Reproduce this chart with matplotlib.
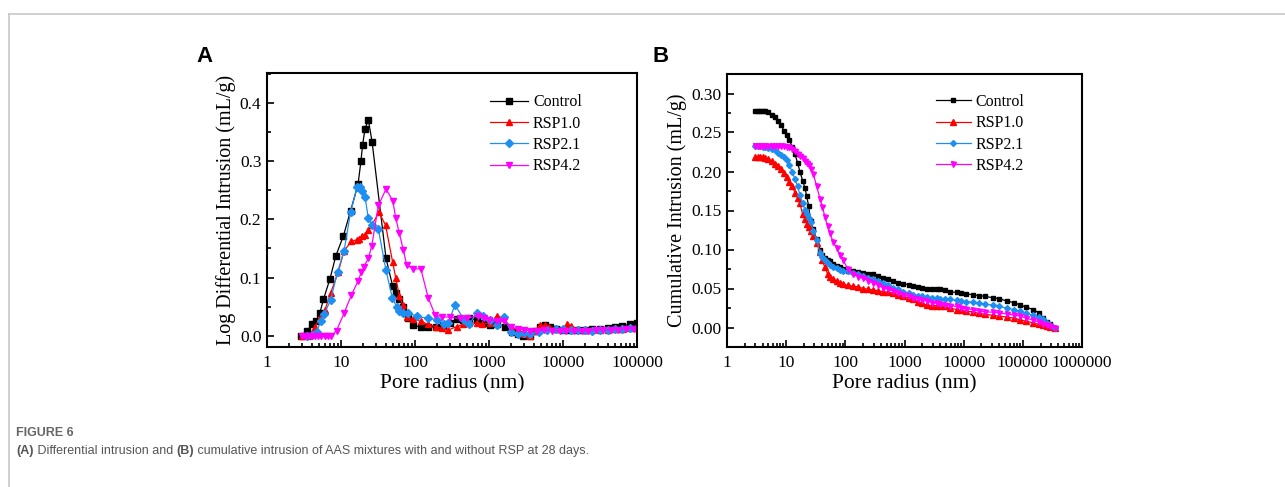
import matplotlib
matplotlib.use("Agg")
import matplotlib.pyplot as plt
from matplotlib.lines import Line2D
from matplotlib.ticker import FuncFormatter, LogLocator, MultipleLocator

# ---- panel A: log differential intrusion (mL/g) vs pore radius (nm) ----
A_CONTROL_R = [2.9, 3.5, 4.1, 4.6, 5.2, 5.8, 7.1, 8.5, 10.8, 13.5, 17, 18.6, 19.6, 21.1, 23.4,
               26.3, 40.6, 50, 55, 61, 69.5, 80, 95, 120, 151, 190, 240, 300, 365, 450, 540,
               680, 850, 1030, 1300, 1660, 2030, 2500, 2900, 3560, 4200, 4900, 5700, 6600,
               8000, 10000, 12500, 16000, 20000, 25000, 32000, 40000, 50000, 63000, 80000, 100000]
A_CONTROL_V = [0.0, 0.009, 0.021, 0.026, 0.04, 0.063, 0.098, 0.137, 0.172, 0.215, 0.26, 0.30,
               0.328, 0.355, 0.371, 0.333, 0.133, 0.085, 0.073, 0.063, 0.05, 0.03, 0.018, 0.015,
               0.015, 0.016, 0.018, 0.022, 0.029, 0.028, 0.031, 0.027, 0.022, 0.019, 0.02, 0.016,
               0.006, 0.003, 0.0, 0.0, 0.008, 0.016, 0.019, 0.016, 0.012, 0.01, 0.01, 0.011,
               0.011, 0.012, 0.012, 0.013, 0.015, 0.017, 0.02, 0.022]

A_RSP10_R = [3.0, 3.6, 4.0, 4.45, 5.2, 6.1, 7.25, 9.2, 11, 13.8, 16.3, 17.7, 19.2, 20.9, 23.4,
             26, 32.6, 40, 50, 55, 61.5, 68, 77.5, 94, 120, 150, 190, 230, 282, 365, 450, 540,
             680, 800, 1030, 1270, 1550, 2000, 2500, 3000, 3600, 4200, 4900, 5700, 6500, 8000,
             10000, 11200, 13000, 16000, 20000, 25000, 32000, 40000, 50000, 63000, 80000, 100000]
A_RSP10_V = [0.0, 0.0, 0.005, 0.016, 0.03, 0.045, 0.074, 0.11, 0.146, 0.162, 0.165, 0.167,
             0.171, 0.173, 0.182, 0.19, 0.212, 0.19, 0.126, 0.099, 0.069, 0.053, 0.033, 0.029,
             0.025, 0.02, 0.016, 0.013, 0.01, 0.016, 0.02, 0.023, 0.022, 0.02, 0.022, 0.034,
             0.031, 0.014, 0.01, 0.003, 0.0, 0.008, 0.018, 0.018, 0.015, 0.012, 0.012, 0.02,
             0.017, 0.012, 0.01, 0.01, 0.011, 0.011, 0.012, 0.012, 0.013, 0.013]

A_RSP21_R = [3.5, 4.1, 4.7, 5.3, 5.96, 7.25, 9.0, 11, 13.5, 16.6, 17.8, 19.4, 21.1, 23.4, 26.3,
             32, 40.5, 49.4, 56.6, 61, 69, 80, 105, 150, 200, 250, 280, 347, 460, 540, 680, 830,
             1030, 1300, 1600, 2000, 2500, 3000, 3600, 4700, 6000, 8000, 10000, 13000, 16000,
             20000, 25000, 32000, 40000, 50000, 63000, 80000, 100000]
A_RSP21_V = [0.0, 0.002, 0.007, 0.025, 0.038, 0.062, 0.11, 0.146, 0.213, 0.256, 0.256, 0.248,
             0.239, 0.202, 0.19, 0.183, 0.113, 0.065, 0.05, 0.042, 0.04, 0.04, 0.034, 0.03,
             0.028, 0.02, 0.022, 0.053, 0.028, 0.02, 0.039, 0.035, 0.028, 0.018, 0.032, 0.006,
             0.004, 0.005, 0.004, 0.007, 0.01, 0.012, 0.012, 0.011, 0.011, 0.01, 0.009, 0.01,
             0.011, 0.012, 0.012, 0.013, 0.013]

A_RSP42_R = [3.0, 3.3, 3.6, 4.0, 4.4, 4.9, 5.4, 6.0, 6.6, 7.4, 8.7, 11, 13.8, 17.1, 18.8, 20.4,
             23.4, 26, 32, 40.6, 50, 55, 61.4, 69.5, 77, 95, 120, 151, 187, 230, 300, 400, 500,
             700, 850, 1000, 1300, 1600, 2000, 2500, 3000, 3600, 4500, 5500, 7000, 9000, 11000,
             14000, 18000, 22000, 28000, 35000, 45000, 56000, 70000, 90000, 100000]
A_RSP42_V = [0.0, 0.0, 0.0, 0.0, 0.0, 0.0, 0.0, 0.0, 0.0, 0.0, 0.009, 0.039, 0.07, 0.095,
             0.109, 0.119, 0.133, 0.154, 0.224, 0.252, 0.232, 0.202, 0.176, 0.148, 0.122, 0.115,
             0.115, 0.065, 0.036, 0.033, 0.032, 0.03, 0.03, 0.035, 0.03, 0.028, 0.025, 0.025,
             0.015, 0.012, 0.01, 0.009, 0.009, 0.01, 0.009, 0.008, 0.008, 0.009, 0.009, 0.009,
             0.01, 0.01, 0.011, 0.011, 0.012, 0.012, 0.012]

# ---- panel B: cumulative intrusion (mL/g), shared pore radius table ----
B_R = [2.97, 3.3, 3.6, 4.0, 4.4, 4.9, 5.7, 6.5, 7.4, 8.3, 9.2, 10.2, 11.3, 12.6, 14.1, 15.6,
       17.1, 19, 20.8, 22.2, 24, 25.9, 28.8, 32.8, 37.3, 41, 45, 50, 55, 62, 71, 80, 92, 110,
       136, 165, 200, 240, 296, 360, 440, 530, 645, 790, 960, 1170, 1400, 1700, 2000, 2370,
       2900, 3500, 4000, 4800, 5800, 7600, 9000, 11000, 14500, 18000, 23000, 31600, 40000,
       53000, 70000, 89000, 115000, 150000, 185000, 222000, 260000, 290000, 350000]
B_CONTROL = [0.278, 0.278, 0.278, 0.278, 0.277, 0.276, 0.273, 0.270, 0.265, 0.259, 0.252, 0.247,
             0.241, 0.232, 0.222, 0.211, 0.200, 0.188, 0.179, 0.168, 0.156, 0.136, 0.126, 0.113,
             0.100, 0.093, 0.089, 0.087, 0.085, 0.082, 0.079, 0.077, 0.075, 0.073, 0.072, 0.071,
             0.070, 0.069, 0.068, 0.066, 0.064, 0.062, 0.059, 0.057, 0.056, 0.055, 0.053, 0.052,
             0.051, 0.050, 0.050, 0.050, 0.050, 0.048, 0.046, 0.045, 0.044, 0.043, 0.042, 0.041,
             0.040, 0.038, 0.037, 0.034, 0.032, 0.029, 0.026, 0.023, 0.019, 0.012, 0.007, 0.004, 0.0]
B_RSP10 = [0.218, 0.218, 0.218, 0.218, 0.217, 0.216, 0.213, 0.210, 0.207, 0.203, 0.198, 0.193,
           0.187, 0.181, 0.173, 0.166, 0.159, 0.145, 0.139, 0.133, 0.129, 0.124, 0.117, 0.108,
           0.097, 0.086, 0.077, 0.069, 0.065, 0.062, 0.059, 0.057, 0.056, 0.054, 0.053, 0.052,
           0.050, 0.049, 0.048, 0.047, 0.046, 0.045, 0.044, 0.042, 0.040, 0.038, 0.036, 0.033,
           0.031, 0.029, 0.028, 0.028, 0.028, 0.027, 0.025, 0.023, 0.022, 0.021, 0.020, 0.018,
           0.017, 0.0155, 0.0145, 0.0135, 0.012, 0.010, 0.008, 0.006, 0.004, 0.003, 0.0015, 0.001, 0.0]
B_RSP21 = [0.2325, 0.2325, 0.2325, 0.232, 0.231, 0.230, 0.229, 0.227, 0.224, 0.221, 0.218, 0.215,
           0.208, 0.200, 0.190, 0.181, 0.170, 0.159, 0.151, 0.145, 0.140, 0.135, 0.124, 0.112,
           0.096, 0.091, 0.087, 0.083, 0.080, 0.078, 0.076, 0.074, 0.073, 0.072, 0.070, 0.068,
           0.066, 0.064, 0.0625, 0.060, 0.057, 0.054, 0.051, 0.049, 0.046, 0.044, 0.042, 0.041,
           0.040, 0.039, 0.038, 0.038, 0.037, 0.037, 0.036, 0.035, 0.034, 0.033, 0.0325, 0.031,
           0.030, 0.0286, 0.027, 0.025, 0.023, 0.021, 0.018, 0.0154, 0.013, 0.0103, 0.006, 0.003, 0.0]
B_RSP42 = [0.2325, 0.2325, 0.2325, 0.2325, 0.2325, 0.2325, 0.2325, 0.2325, 0.2325, 0.2325, 0.2325,
           0.232, 0.231, 0.229, 0.226, 0.223, 0.220, 0.2175, 0.214, 0.211, 0.208, 0.203, 0.197,
           0.181, 0.165, 0.155, 0.142, 0.130, 0.121, 0.110, 0.102, 0.093, 0.086, 0.075, 0.068,
           0.065, 0.063, 0.060, 0.057, 0.054, 0.051, 0.049, 0.0466, 0.044, 0.042, 0.040, 0.038,
           0.036, 0.035, 0.034, 0.032, 0.031, 0.030, 0.029, 0.028, 0.027, 0.025, 0.024, 0.023,
           0.021, 0.020, 0.0196, 0.0185, 0.0175, 0.016, 0.0147, 0.012, 0.0094, 0.007, 0.005,
           0.0026, 0.0015, 0.0]

LABELS = ["Control", "RSP1.0", "RSP2.1", "RSP4.2"]
COLORS = ["#000000", "#ff0000", "#1e8ff0", "#ff00ff"]
MARKERS = ["s", "^", "D", "v"]
MSIZES = [4.0, 4.4, 3.8, 4.4]

SERIF = ["Liberation Serif", "DejaVu Serif"]
plt.rcParams["font.family"] = SERIF

fig = plt.figure(figsize=(12.85, 4.87), dpi=100)

# page frame lines (light grey)
fig.add_artist(Line2D([9 / 1285, 1.0], [1 - 14 / 487] * 2, color="#c8c8c8", lw=1.2))
fig.add_artist(Line2D([9 / 1285] * 2, [1 - 14 / 487, 0.0], color="#c8c8c8", lw=1.2))

ax_a = fig.add_axes([267 / 1285, 1 - 347 / 487, 370 / 1285, 274 / 487])
ax_b = fig.add_axes([727 / 1285, 1 - 347 / 487, 355 / 1285, 273 / 487])


def plain_int(v, _pos):
    return f"{int(round(v))}"


def style_axes(ax, xmax, ylim, ymaj, ymin, yfmt):
    ax.set_xscale("log")
    ax.set_xlim(1, xmax)
    ax.set_ylim(*ylim)
    ax.xaxis.set_major_locator(LogLocator(base=10, numticks=12))
    ax.xaxis.set_minor_locator(LogLocator(base=10, subs=range(2, 10), numticks=12))
    ax.xaxis.set_major_formatter(FuncFormatter(plain_int))
    ax.yaxis.set_major_locator(MultipleLocator(ymaj))
    ax.yaxis.set_minor_locator(MultipleLocator(ymin))
    ax.yaxis.set_major_formatter(FuncFormatter(lambda v, _p: yfmt.format(v)))
    ax.tick_params(which="both", direction="in", top=False, right=False,
                   width=1.2, labelsize=12.5)
    ax.tick_params(which="major", length=5, pad=4)
    ax.tick_params(axis="x", which="major", pad=6)
    ax.tick_params(which="minor", length=3)
    for sp in ax.spines.values():
        sp.set_linewidth(1.5)
    ax.set_xlabel("Pore radius (nm)", fontsize=15.5, labelpad=2)


series_a = [(A_CONTROL_R, A_CONTROL_V), (A_RSP10_R, A_RSP10_V),
            (A_RSP21_R, A_RSP21_V), (A_RSP42_R, A_RSP42_V)]
for (r, v), lab, c, m, ms in zip(series_a, LABELS, COLORS, MARKERS, MSIZES):
    ax_a.plot(r, v, color=c, marker=m, markersize=ms, lw=0.9, label=lab)
style_axes(ax_a, 1e5, (-0.019, 0.451), 0.1, 0.05, "{:.1f}")
ax_a.set_ylabel("Log Differential Intrusion (mL/g)", fontsize=14.5, labelpad=3)
ax_a.legend(loc="upper left", bbox_to_anchor=(0.585, 0.945), frameon=False, fontsize=11.5,
            handlelength=2.4, handletextpad=0.3, labelspacing=0.33, borderaxespad=0)

series_b = [B_CONTROL, B_RSP10, B_RSP21, B_RSP42]
for v, lab, c, m, ms in zip(series_b, LABELS, COLORS, MARKERS, MSIZES):
    ax_b.plot(B_R, v, color=c, marker=m, markersize=ms - 0.8, lw=0.9, label=lab)
style_axes(ax_b, 1e6, (-0.025, 0.325), 0.05, 0.025, "{:.2f}")
ax_b.set_ylabel("Cumulative Intrusion (mL/g)", fontsize=14.5, labelpad=3)
ax_b.legend(loc="upper left", bbox_to_anchor=(0.57, 0.95), frameon=False, fontsize=11.5,
            handlelength=2.2, handletextpad=0.3, labelspacing=0.33, borderaxespad=0)

# panel letters
SANS = ["Liberation Sans", "DejaVu Sans"]
fig.text(196 / 1285, 1 - 57 / 487, "A", family=SANS, fontsize=16, fontweight="bold",
         va="center", ha="left")
fig.text(653 / 1285, 1 - 57 / 487, "B", family=SANS, fontsize=16, fontweight="bold",
         va="center", ha="left")

# caption
fig.text(16 / 1285, 1 - 433 / 487, "FIGURE 6", family=SANS, fontsize=9,
         color="#666666", fontweight="bold", va="center", ha="left")
cap_parts = [("(A)", "bold"), (" Differential intrusion and ", "normal"), ("(B)", "bold"),
             (" cumulative intrusion of AAS mixtures with and without RSP at 28 days.", "normal")]
prev = fig.text(16 / 1285, 1 - 454 / 487, cap_parts[0][0], family=SANS, fontsize=9,
                color="#555555", fontweight=cap_parts[0][1], va="baseline", ha="left")
for txt, wt in cap_parts[1:]:
    prev = ax_b.annotate(txt, xy=(1, 0), xycoords=prev, va="bottom", ha="left",
                         family=SANS, fontsize=9, color="#555555", fontweight=wt,
                         annotation_clip=False)

fig.savefig("out.png", dpi=100)
